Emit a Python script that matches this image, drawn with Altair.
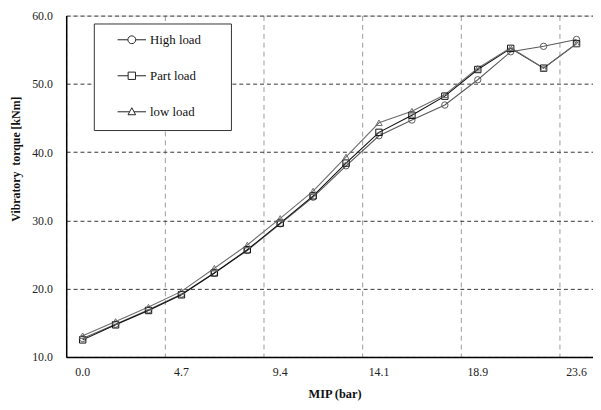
import altair as alt
import pandas as pd

mip = ["0.0", "1.6", "3.1", "4.7", "6.3", "7.9", "9.4", "11.0", "12.6",
       "14.1", "15.7", "17.3", "18.9", "20.4", "22.0", "23.6"]
tick_labels = ["0.0", "4.7", "9.4", "14.1", "18.9", "23.6"]
series = ["High load", "Part load", "low load"]
high = [12.7, 14.8, 16.9, 19.2, 22.3, 25.6, 29.5, 33.4, 38.0, 42.4, 44.7, 46.9, 50.6, 54.7, 55.5, 56.5]
part = [12.5, 14.7, 16.8, 19.1, 22.3, 25.7, 29.6, 33.6, 38.4, 42.9, 45.4, 48.2, 52.1, 55.2, 52.3, 55.9]
low = [13.1, 15.2, 17.3, 19.6, 23.0, 26.4, 30.3, 34.3, 39.3, 44.3, 46.0, 48.4, 52.3, 55.3, 52.3, 55.9]
y_ticks = [10, 20, 30, 40, 50, 60]

rows = []
for name, vals in zip(series, [high, part, low]):
    for m, v in zip(mip, vals):
        rows.append({"mip": m, "torque": v, "load": name})
df = pd.DataFrame(rows)

FONT = "Liberation Serif"

x = alt.X(
    "mip:O", sort=mip, bandPosition=0.5,
    scale=alt.Scale(type="band", paddingInner=0, paddingOuter=0),
    axis=alt.Axis(values=tick_labels, bandPosition=0, labelAngle=0, ticks=False,
                  grid=True, gridColor="#9a9a9a", gridDash=[5, 4], gridWidth=1,
                  domainColor="#000", domainWidth=1.5, labelPadding=10,
                  labelFont=FONT, labelFontSize=12, labelColor="#222",
                  titleFont=FONT, titleFontSize=12.5, titleFontWeight="bold", titleColor="#111",
                  titlePadding=10, titleX=272, titleAlign="center"),
    title="MIP (bar)",
)
y = alt.Y(
    "torque:Q",
    scale=alt.Scale(domain=[10, 60], nice=False, zero=False),
    axis=alt.Axis(values=y_ticks, format=".1f", ticks=False, grid=True,
                  gridColor="#333", gridDash=[4, 3], gridWidth=1,
                  domainColor="#000", domainWidth=1.5, labelPadding=14,
                  labelFont=FONT, labelFontSize=12, labelColor="#222",
                  titleFont=FONT, titleFontSize=12, titleFontWeight="bold", titleColor="#111",
                  titleX=-51, titleY=145, titleAngle=270, titleAlign="center",
                  titleBaseline="middle"),
    title="Vibratory\u00a0 torque [kNm]",
)

color = alt.Color("load:N", sort=series,
                  scale=alt.Scale(domain=series, range=["#5a5a5a", "#111111", "#6e6e6e"]),
                  legend=None)

lines = alt.Chart(df).mark_line(strokeWidth=1.1).encode(x=x, y=y, color=color, detail="load:N")

points = alt.Chart(df).mark_point(filled=False, size=42, strokeWidth=1, opacity=1).encode(
    x=x, y=y, color=color,
    shape=alt.Shape("load:N", sort=series,
                    scale=alt.Scale(domain=series, range=["circle", "square", "triangle-up"]),
                    legend=None),
)

legend_paths = [
    "M0,-0.67M0,1.0M-1.2,0L-0.33,0M0.33,0L1.2,0M-0.33,0A0.33,0.33,0,1,0,0.33,0A0.33,0.33,0,1,0,-0.33,0",
    "M0,-0.67M0,1.0M-1.2,0L-0.31,0M0.31,0L1.2,0M-0.31,-0.31L0.31,-0.31L0.31,0.31L-0.31,0.31Z",
    "M0,-0.67M0,1.0M-1.2,0L-0.19,0M0.19,0L1.2,0M0,-0.34L0.32,0.25L-0.32,0.25Z",
]

legend_layer = alt.Chart(df).mark_point(opacity=0).encode(
    x=x, y=y,
    shape=alt.Shape("load:N", sort=series,
                    scale=alt.Scale(domain=series, range=legend_paths),
                    legend=alt.Legend(
                        title="\u00a0", titleOrient="right", titlePadding=26,
                        titleFontSize=12, titleFont=FONT,
                        orient="none", legendX=28, legendY=8,
                        padding=4, symbolOffset=22, labelOffset=6, rowPadding=9.5,
                        symbolSize=576, symbolOpacity=1, symbolStrokeColor="#222",
                        symbolFillColor="white", symbolStrokeWidth=1,
                        strokeColor="#333", fillColor="white",
                        labelFont=FONT, labelFontSize=13, labelColor="#111",
                    )),
)

chart = alt.layer(lines, points, legend_layer).resolve_scale(shape="independent").properties(
    width=534, height=346,
    autosize=alt.AutoSizeParams(type="none"),
    padding={"left": 59, "top": 5, "right": 0, "bottom": 45},
).configure_view(stroke="#555", strokeWidth=1.5).configure(background="white")

chart.save("out.html", embed_options={"renderer": "svg", "actions": False})
